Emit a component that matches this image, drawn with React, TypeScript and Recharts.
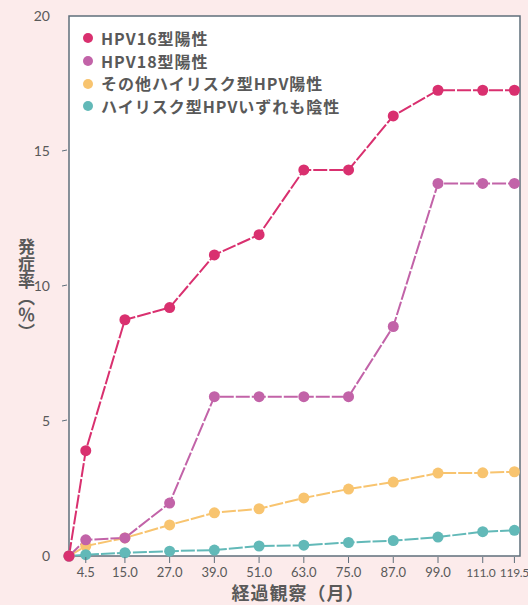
import React from "react";
import { Line, LineChart, ReferenceArea, XAxis, YAxis } from "recharts";

const months = [0, 4.5, 15, 27, 39, 51, 63, 75, 87, 99, 111, 119.5];
const hpv16 = [0, 3.9, 8.75, 9.2, 11.15, 11.9, 14.3, 14.3, 16.3, 17.25, 17.25, 17.25];
const hpv18 = [0, 0.6, 0.67, 1.96, 5.9, 5.9, 5.9, 5.9, 8.5, 13.8, 13.8, 13.8];
const otherHigh = [0, 0.37, 0.67, 1.15, 1.6, 1.75, 2.15, 2.48, 2.74, 3.07, 3.08, 3.12];
const allNegative = [0, 0.05, 0.12, 0.18, 0.22, 0.37, 0.4, 0.5, 0.57, 0.7, 0.9, 0.95];

const xTicks = [4.5, 15, 27, 39, 51, 63, 75, 87, 99, 111, 119.5];
const yTicks = [0, 5, 10, 15, 20];

const seriesNames = ["HPV16型陽性", "HPV18型陽性", "その他ハイリスク型HPV陽性", "ハイリスク型HPVいずれも陰性"];
const colors = ["#d9306f", "#c263a8", "#f8c46f", "#62b9b8"];

const data = months.map((m, i) => ({
  month: m,
  s16: hpv16[i],
  s18: hpv18[i],
  other: otherHigh[i],
  neg: allNegative[i],
}));

const font = "'Noto Sans CJK JP', 'Noto Sans', sans-serif";
const textColor = "#595959";
const frame = "#5f6f7b";

function XTick(props: any) {
  const { x, y, payload } = props;
  // the last two labels sit close together at the right edge
  const dx = payload.value === 119.5 ? 0 : payload.value === 111 ? -2 : 0;
  const last = payload.value >= 111;
  return (
    <g>
      <line x1={x} x2={x} y1={y - 7} y2={y - 1} stroke={frame} strokeWidth={1} />
      <text
        x={x + dx}
        y={y + 13}
        textAnchor="middle"
        fill={textColor}
        fontSize={last ? 12 : 13}
        letterSpacing={last ? -0.3 : 0}
        fontFamily="Lato, sans-serif"
      >
        {payload.value.toFixed(1)}
      </text>
    </g>
  );
}

function YTick(props: any) {
  const { x, y, payload } = props;
  return (
    <g>
      {payload.value > 0 && payload.value < 20 && (
        <line x1={x + 1} x2={x + 6} y1={y} y2={y - 1} stroke={frame} strokeWidth={1} />
      )}
      <text x={x - 11} y={y + 5} textAnchor="end" fill={textColor} fontSize={14} fontFamily="Lato, sans-serif">
        {payload.value}
      </text>
    </g>
  );
}

export default function App() {
  const keys = ["other", "neg", "s18", "s16"];
  const idx: Record<string, number> = { s16: 0, s18: 1, other: 2, neg: 3 };
  return (
    <div style={{ position: "absolute", left: 0, top: 0, width: 528, height: 605, background: "#fcebeb", overflow: "hidden" }}>
      <LineChart width={528} height={605} data={data} margin={{ top: 16, right: 8, bottom: 19, left: 0 }}>
        <ReferenceArea
          x1={0}
          x2={121}
          y1={0}
          y2={20}
          fill="#ffffff"
          fillOpacity={1}
          stroke={frame}
          strokeWidth={1.5}
        />
        <XAxis
          dataKey="month"
          type="number"
          domain={[0, 121]}
          ticks={xTicks}
          interval={0}
          axisLine={false}
          tickLine={false}
          tick={<XTick />}
          height={30}
        />
        <YAxis
          type="number"
          domain={[0, 20]}
          ticks={yTicks}
          axisLine={false}
          tickLine={false}
          tick={<YTick />}
          width={69}
        />
        {keys.map((k) => (
          <Line
            key={k}
            dataKey={k}
            name={seriesNames[idx[k]]}
            type="linear"
            stroke={colors[idx[k]]}
            strokeWidth={2}
            strokeDasharray="14 2"
            dot={{ r: 5.5, fill: colors[idx[k]], stroke: "none" }}
            activeDot={false}
            isAnimationActive={false}
          />
        ))}
      </LineChart>
      <div
        style={{
          position: "absolute",
          left: 83,
          top: 27,
          fontFamily: font,
          fontWeight: 700,
          fontSize: 16,
          letterSpacing: 1,
          color: textColor,
          lineHeight: "22.7px",
        }}
      >
        {seriesNames.map((name, i) => (
          <div key={name} style={{ display: "flex", alignItems: "center", whiteSpace: "nowrap" }}>
            <span
              style={{
                display: "inline-block",
                width: 10,
                height: 10,
                borderRadius: 5,
                background: colors[i],
                marginRight: 8,
              }}
            />
            {name}
          </div>
        ))}
      </div>
      <div
        style={{
          position: "absolute",
          left: 18,
          top: 238,
          writingMode: "vertical-rl",
          fontFamily: font,
          fontWeight: 700,
          fontSize: 17,
          color: textColor,
          lineHeight: 1,
        }}
      >
        発症率︵％︶
      </div>
      <div
        style={{
          position: "absolute",
          left: 0,
          width: 596,
          top: 582,
          textAlign: "center",
          fontFamily: font,
          fontWeight: 700,
          fontSize: 18,
          letterSpacing: 1,
          color: textColor,
          lineHeight: 1.2,
        }}
      >
        経過観察（月）
      </div>
    </div>
  );
}
